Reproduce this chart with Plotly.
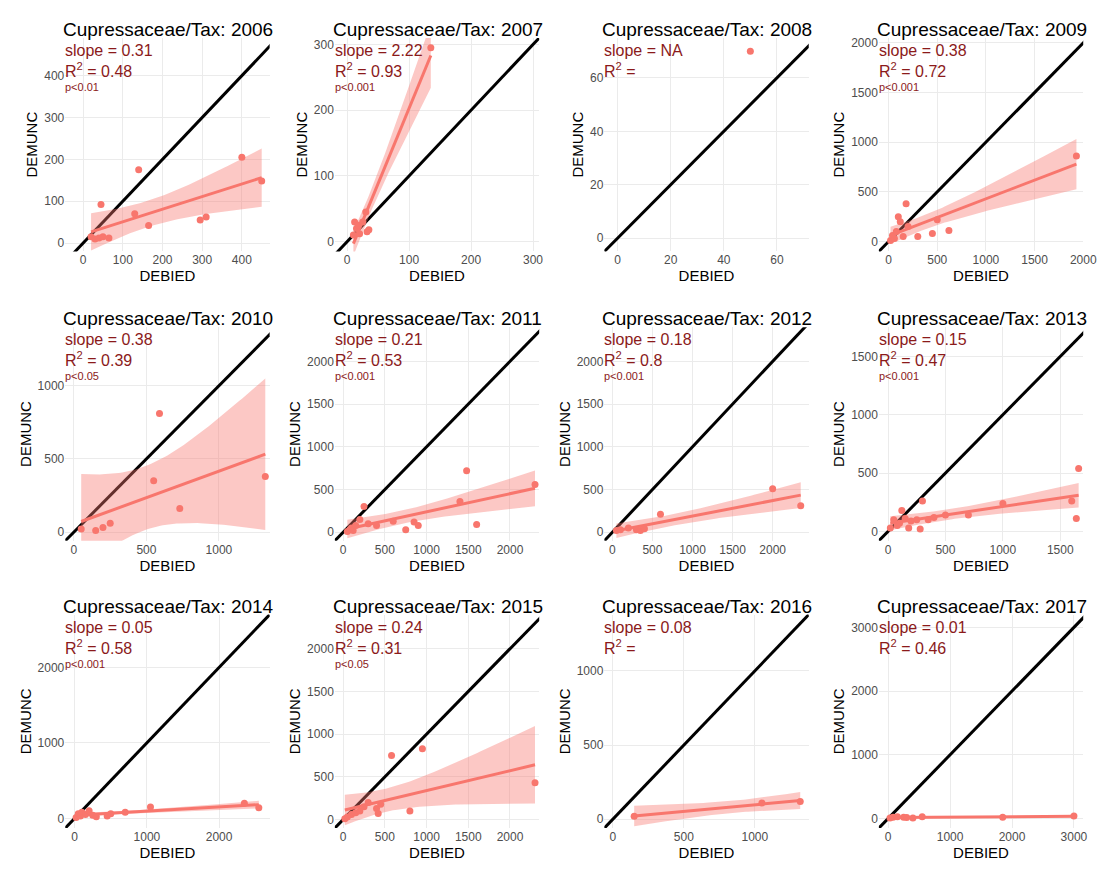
import numpy as np
import plotly.graph_objects as go

years = ["2006", "2007", "2008", "2009", "2010", "2011",
         "2012", "2013", "2014", "2015", "2016", "2017"]

x2006 = [20, 30, 40, 45, 50, 65, 130, 140, 165, 295, 310, 400, 450]
y2006 = [15, 10, 12, 92, 15, 12, 70, 175, 42, 55, 62, 205, 148]
x2007 = [10, 12, 15, 18, 20, 25, 30, 32, 35, 135]
y2007 = [10, 30, 20, 25, 12, 30, 45, 15, 18, 295]
x2008 = [50]
y2008 = [70]
x2009 = [20, 40, 60, 80, 100, 120, 150, 180, 200, 300, 450, 500, 620, 1930]
y2009 = [10, 60, 30, 100, 250, 200, 50, 380, 150, 50, 80, 220, 110, 860]
x2010 = [50, 150, 200, 250, 550, 590, 730, 1320]
y2010 = [20, 10, 30, 60, 350, 810, 160, 380]
x2011 = [50, 80, 100, 120, 150, 200, 250, 300, 400, 600, 750, 850, 900, 1400, 1480, 1600, 2300]
y2011 = [10, 30, 50, 20, 80, 150, 300, 100, 80, 130, 30, 120, 80, 360, 720, 90, 560]
x2012 = [50, 100, 200, 300, 350, 400, 600, 2000, 2350]
y2012 = [20, 30, 50, 30, 20, 40, 210, 510, 310]
x2013 = [20, 50, 80, 100, 120, 150, 180, 200, 250, 280, 300, 350, 400, 500, 700, 1000, 1600, 1640, 1660]
y2013 = [30, 100, 50, 70, 180, 110, 30, 90, 100, 20, 260, 100, 120, 140, 140, 240, 260, 110, 540]
x2014 = [20, 50, 80, 100, 150, 200, 250, 300, 450, 500, 700, 1050, 2350, 2550]
y2014 = [10, 60, 30, 80, 50, 100, 40, 20, 30, 60, 80, 150, 200, 140]
x2015 = [20, 50, 100, 150, 200, 250, 300, 400, 420, 450, 580, 800, 950, 2300]
y2015 = [10, 30, 60, 80, 100, 150, 200, 130, 70, 180, 750, 100, 830, 430]
x2016 = [150, 1050, 1320]
y2016 = [20, 110, 120]
x2017 = [30, 80, 150, 250, 300, 400, 550, 1850, 3000]
y2017 = [10, 20, 30, 20, 15, 10, 30, 20, 40]

slopes = ["0.31", "2.22", "NA", "0.38", "0.38", "0.21", "0.18", "0.15", "0.05", "0.24", "0.08", "0.01"]
r2s = ["0.48", "0.93", "", "0.72", "0.39", "0.53", "0.8", "0.47", "0.58", "0.31", "", "0.46"]
pvals = ["p<0.01", "p<0.001", "", "p<0.001", "p<0.05", "p<0.001", "p<0.001", "p<0.001", "p<0.001", "p<0.05", "", ""]

xs = [x2006, x2007, x2008, x2009, x2010, x2011, x2012, x2013, x2014, x2015, x2016, x2017]
ys = [y2006, y2007, y2008, y2009, y2010, y2011, y2012, y2013, y2014, y2015, y2016, y2017]

xranges = [[-45, 470], [-20, 310], [-5, 72], [-100, 2000], [-60, 1350], [-100, 2350],
           [-100, 2450], [-80, 1700], [-130, 2700], [-100, 2350], [-60, 1380], [-150, 3150]]
yranges = [[-20, 490], [-15, 310], [-5, 75], [-100, 2050], [-60, 1400], [-100, 2400],
           [-100, 2400], [-80, 1750], [-130, 2700], [-100, 2400], [-60, 1380], [-150, 3200]]
xdt = [100, 100, 20, 500, 500, 500, 500, 500, 1000, 500, 500, 1000]
ydt = [100, 100, 20, 500, 500, 500, 500, 500, 1000, 500, 500, 1000]

W, H = 1107, 872
col_left = [58, 331, 604, 882]
row_top = [28, 318, 606]
pw, ph = 207, 214

red = "#F8766D"
fig = go.Figure()
annos = []
for i in range(12):
    r, c = divmod(i, 4)
    n = i + 1
    xa = "x" if n == 1 else f"x{n}"
    ya = "y" if n == 1 else f"y{n}"
    x0, x1 = xranges[i]
    lo = min(x0, yranges[i][0])
    hi = max(x1, yranges[i][1])
    fig.add_trace(go.Scatter(x=[lo, hi], y=[lo, hi], mode="lines",
                             line=dict(color="black", width=3), xaxis=xa, yaxis=ya))
    x = np.array(xs[i], float)
    y = np.array(ys[i], float)
    if len(x) > 2:
        b, a = np.polyfit(x, y, 1)
        gx = np.linspace(x.min(), x.max(), 80)
        gy = a + b * gx
        df = len(x) - 2
        s = np.sqrt(np.sum((y - (a + b * x)) ** 2) / df)
        t = 1.96 + 2.5 / df + 2.5 / df ** 2
        se = s * np.sqrt(1 / len(x) + (gx - x.mean()) ** 2 / np.sum((x - x.mean()) ** 2))
        fig.add_trace(go.Scatter(x=np.concatenate([gx, gx[::-1]]),
                                 y=np.concatenate([gy + t * se, (gy - t * se)[::-1]]),
                                 fill="toself", fillcolor="rgba(248,118,109,0.4)",
                                 line=dict(width=0), mode="lines", xaxis=xa, yaxis=ya))
        fig.add_trace(go.Scatter(x=gx, y=gy, mode="lines", line=dict(color=red, width=3),
                                 xaxis=xa, yaxis=ya))
    fig.add_trace(go.Scatter(x=x, y=y, mode="markers", marker=dict(color=red, size=7),
                             xaxis=xa, yaxis=ya))
    dx = [col_left[c] / W, (col_left[c] + pw) / W]
    dy = [1 - (row_top[r] + ph) / H, 1 - row_top[r] / H]
    common = dict(showgrid=True, gridcolor="#ebebeb", zeroline=False, showline=False,
                  tickfont=dict(size=12, color="#4d4d4d"), ticks="")
    fig.layout[f"xaxis{'' if n == 1 else n}"] = dict(
        domain=dx, range=xranges[i], dtick=xdt[i], anchor=ya,
        title=dict(text="DEBIED", font=dict(size=15, color="black"), standoff=2), **common)
    fig.layout[f"yaxis{'' if n == 1 else n}"] = dict(
        domain=dy, range=yranges[i], dtick=ydt[i], anchor=xa,
        title=dict(text="DEMUNC", font=dict(size=15, color="black"), standoff=2), **common)
    lx = col_left[c] / W
    annos.append(dict(x=lx, y=dy[1], xref="paper", yref="paper", xanchor="left", yanchor="bottom",
                      text=f"Cupressaceae/Tax: {years[i]}", showarrow=False, xshift=-4, yshift=-4,
                      font=dict(size=19, color="black")))
    annos.append(dict(x=lx, y=1 - (row_top[r] + 2) / H, xref="paper", yref="paper",
                      xanchor="left", yanchor="top", showarrow=False, align="left", xshift=-2,
                      text=f"slope = {slopes[i]}", font=dict(size=16, color="#8B1A1A")))
    annos.append(dict(x=lx, y=1 - (row_top[r] + 20) / H, xref="paper", yref="paper",
                      xanchor="left", yanchor="top", showarrow=False, align="left", xshift=-2,
                      text=f"R<sup>2</sup> = {r2s[i]}", font=dict(size=16, color="#8B1A1A")))
    if pvals[i]:
        annos.append(dict(x=lx, y=1 - (row_top[r] + 41) / H, xref="paper", yref="paper",
                          xanchor="left", yanchor="top", showarrow=False, xshift=-2,
                          text=pvals[i], font=dict(size=11, color="#8B1A1A")))

fig.update_layout(width=W, height=H, margin=dict(l=0, r=0, t=0, b=0),
                  plot_bgcolor="white", paper_bgcolor="white", showlegend=False,
                  annotations=annos, font=dict(family="Liberation Sans"))
fig.write_html("out.html")
